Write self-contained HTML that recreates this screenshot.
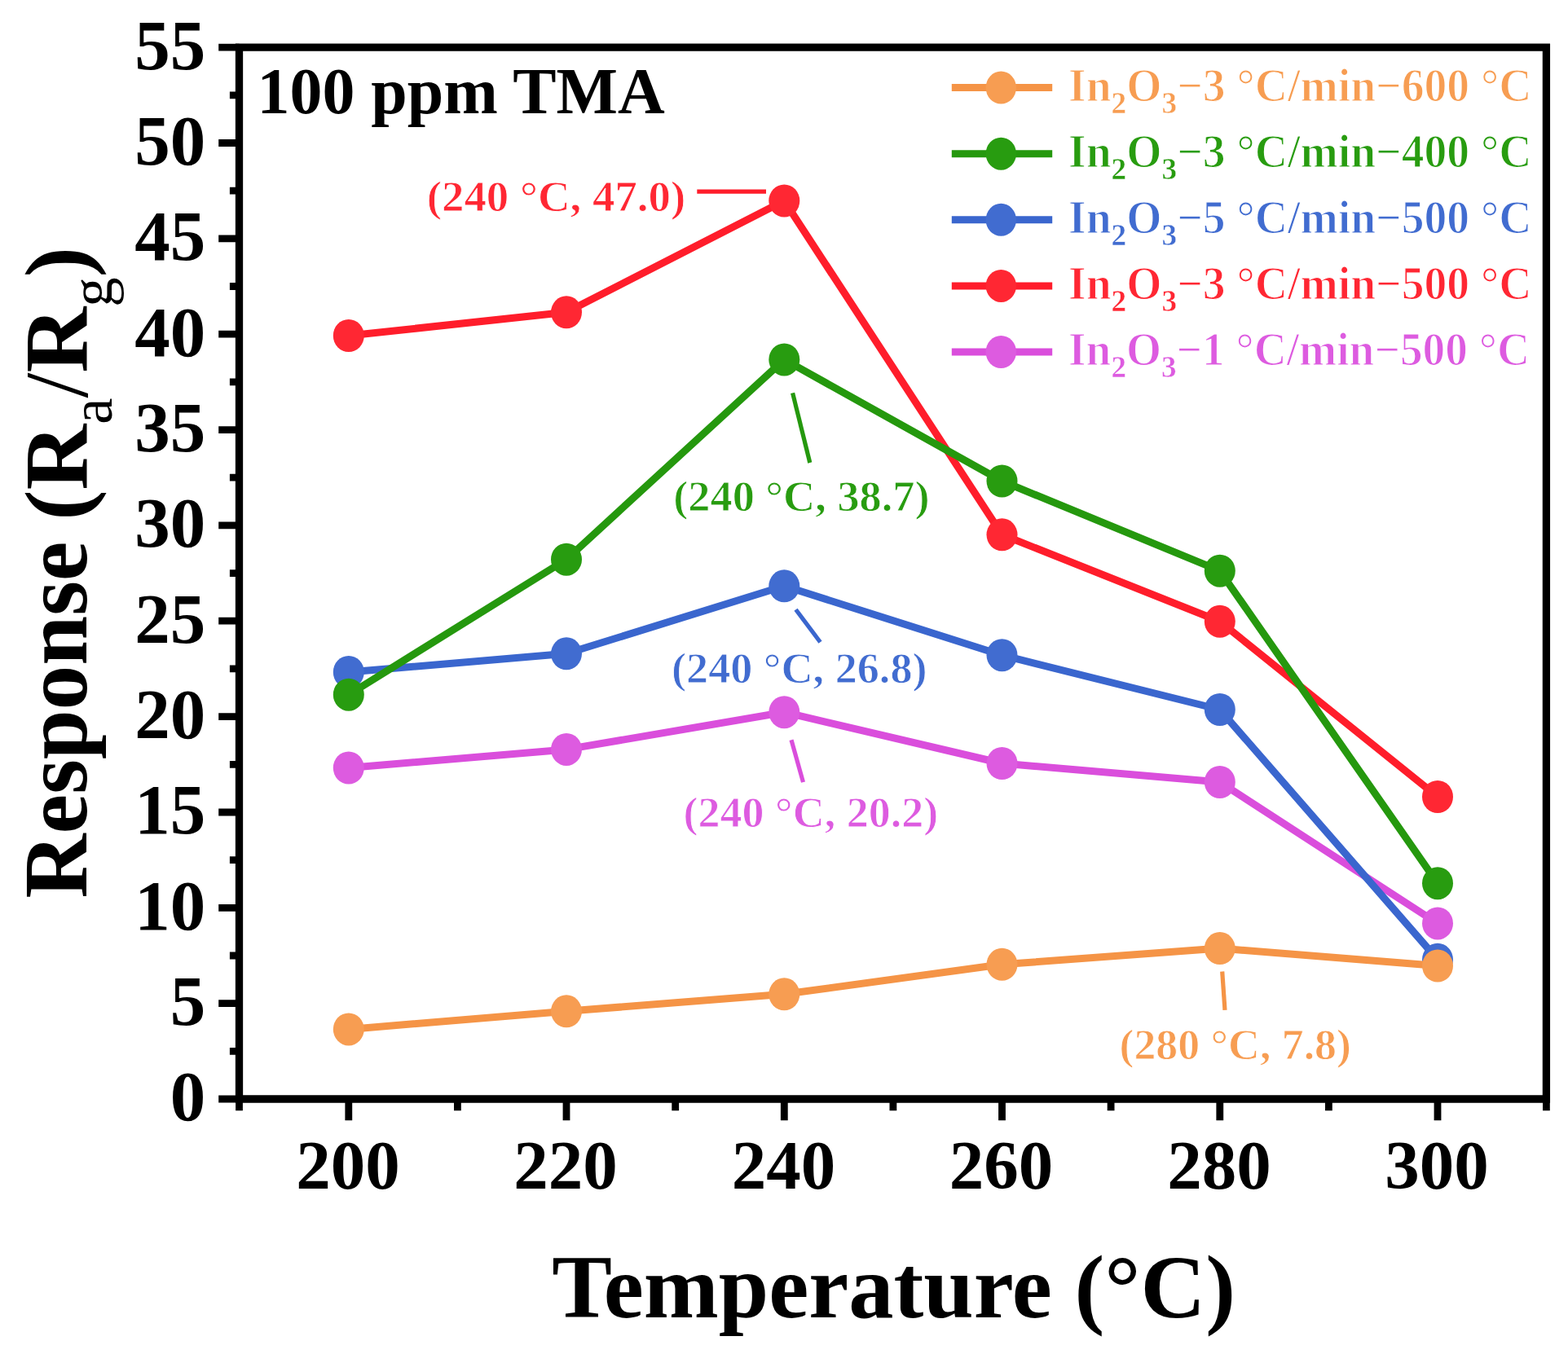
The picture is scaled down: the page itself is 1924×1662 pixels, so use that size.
<!DOCTYPE html><html><head><meta charset="utf-8"><title>Response vs Temperature</title><style>
html,body{margin:0;padding:0;background:#fff;}body{width:1924px;height:1662px;overflow:hidden;}
svg{display:block;}text{font-family:"Liberation Serif", "Times New Roman", serif;font-weight:bold;}
</style></head><body>
<svg width="1924" height="1662" viewBox="0 0 1924 1662">
<rect width="1924" height="1662" fill="#fff"/>
<path d="M293.5 58.1 H1897.4 V1349.0 H293.5 Z" stroke="#000" stroke-width="9.3" fill="none"/>
<path d="M268.2 1349.0 H293.5 M268.2 1231.7 H293.5 M268.2 1114.3 H293.5 M268.2 997.0 H293.5 M268.2 879.6 H293.5 M268.2 762.2 H293.5 M268.2 644.9 H293.5 M268.2 527.6 H293.5 M268.2 410.2 H293.5 M268.2 292.9 H293.5 M268.2 175.5 H293.5 M268.2 58.2 H293.5 M281.9 1290.3 H293.5 M281.9 1173.0 H293.5 M281.9 1055.6 H293.5 M281.9 938.3 H293.5 M281.9 820.9 H293.5 M281.9 703.6 H293.5 M281.9 586.2 H293.5 M281.9 468.9 H293.5 M281.9 351.5 H293.5 M281.9 234.2 H293.5 M281.9 116.8 H293.5 M427.8 1349.0 V1375.3 M695.0 1349.0 V1375.3 M962.3 1349.0 V1375.3 M1229.5 1349.0 V1375.3 M1496.8 1349.0 V1375.3 M1764.0 1349.0 V1375.3 M561.4 1349.0 V1363.2 M828.7 1349.0 V1363.2 M1095.9 1349.0 V1363.2 M1363.1 1349.0 V1363.2 M1630.4 1349.0 V1363.2 M293.5 1349.0 V1363.2 M1897.4 1349.0 V1363.2" stroke="#000" stroke-width="8.8" fill="none"/>
<g font-size="87" text-anchor="end" fill="#000">
<text x="252.3" y="1375.3">0</text>
<text x="252.3" y="1258.0">5</text>
<text x="252.3" y="1140.6">10</text>
<text x="252.3" y="1023.3">15</text>
<text x="252.3" y="905.9">20</text>
<text x="252.3" y="788.6">25</text>
<text x="252.3" y="671.2">30</text>
<text x="252.3" y="553.9">35</text>
<text x="252.3" y="436.5">40</text>
<text x="252.3" y="319.2">45</text>
<text x="252.3" y="201.8">50</text>
<text x="252.3" y="84.5">55</text>
</g>
<g font-size="85" text-anchor="middle" fill="#000">
<text x="426.9" y="1459.0">200</text>
<text x="694.1" y="1459.0">220</text>
<text x="961.4" y="1459.0">240</text>
<text x="1228.6" y="1459.0">260</text>
<text x="1495.9" y="1459.0">280</text>
<text x="1763.1" y="1459.0">300</text>
</g>
<text transform="matrix(1.10478 0 0 1.09846 677.19 1616.50)" font-size="100" fill="#000">Temperature (°C)</text>
<text transform="matrix(0 -1.09470 1.11395 0 105.71 1102.49)" font-size="100" fill="#000">Response</text>
<text transform="matrix(0 -1.11849 1.10727 0 106.70 638.77)" font-size="100" fill="#000">(R<tspan font-size="65" dy="27" font-weight="normal">a</tspan><tspan dy="-27" font-weight="normal">/</tspan><tspan>R</tspan><tspan font-size="65" dy="27" font-weight="normal">g</tspan><tspan dy="-27">)</tspan></text>
<text transform="matrix(0.79887 0 0 0.80115 315.51 138.98)" font-size="100" fill="#000">100 ppm TMA</text>
<polyline points="427.8,942.5 695.0,919.9 962.3,874.2 1229.5,937.0 1496.8,960.0 1764.0,1133.4" fill="none" stroke="#DA4EDC" stroke-width="9.0" stroke-linejoin="round"/>
<ellipse cx="427.8" cy="942.5" rx="19" ry="20" fill="#DD5BE0"/>
<ellipse cx="695.0" cy="919.9" rx="19" ry="20" fill="#DD5BE0"/>
<ellipse cx="962.3" cy="874.2" rx="19" ry="20" fill="#DD5BE0"/>
<ellipse cx="1229.5" cy="937.0" rx="19" ry="20" fill="#DD5BE0"/>
<ellipse cx="1496.8" cy="960.0" rx="19" ry="20" fill="#DD5BE0"/>
<ellipse cx="1764.0" cy="1133.4" rx="19" ry="20" fill="#DD5BE0"/>
<polyline points="427.8,412.0 695.0,383.3 962.3,246.5 1229.5,656.3 1496.8,762.8 1764.0,978.0" fill="none" stroke="#FF1D2B" stroke-width="9.0" stroke-linejoin="round"/>
<ellipse cx="427.8" cy="412.0" rx="19" ry="20" fill="#FF2733"/>
<ellipse cx="695.0" cy="383.3" rx="19" ry="20" fill="#FF2733"/>
<ellipse cx="962.3" cy="246.5" rx="19" ry="20" fill="#FF2733"/>
<ellipse cx="1229.5" cy="656.3" rx="19" ry="20" fill="#FF2733"/>
<ellipse cx="1496.8" cy="762.8" rx="19" ry="20" fill="#FF2733"/>
<ellipse cx="1764.0" cy="978.0" rx="19" ry="20" fill="#FF2733"/>
<polyline points="427.8,825.0 695.0,802.3 962.3,719.3 1229.5,804.2 1496.8,871.0 1764.0,1177.8" fill="none" stroke="#3A66CE" stroke-width="9.0" stroke-linejoin="round"/>
<ellipse cx="427.8" cy="825.0" rx="19" ry="20" fill="#416CD0"/>
<ellipse cx="695.0" cy="802.3" rx="19" ry="20" fill="#416CD0"/>
<ellipse cx="962.3" cy="719.3" rx="19" ry="20" fill="#416CD0"/>
<ellipse cx="1229.5" cy="804.2" rx="19" ry="20" fill="#416CD0"/>
<ellipse cx="1496.8" cy="871.0" rx="19" ry="20" fill="#416CD0"/>
<ellipse cx="1764.0" cy="1177.8" rx="19" ry="20" fill="#416CD0"/>
<polyline points="427.8,852.7 695.0,686.7 962.3,441.4 1229.5,590.5 1496.8,700.7 1764.0,1084.2" fill="none" stroke="#25980E" stroke-width="9.0" stroke-linejoin="round"/>
<ellipse cx="427.8" cy="852.7" rx="19" ry="20" fill="#289C10"/>
<ellipse cx="695.0" cy="686.7" rx="19" ry="20" fill="#289C10"/>
<ellipse cx="962.3" cy="441.4" rx="19" ry="20" fill="#289C10"/>
<ellipse cx="1229.5" cy="590.5" rx="19" ry="20" fill="#289C10"/>
<ellipse cx="1496.8" cy="700.7" rx="19" ry="20" fill="#289C10"/>
<ellipse cx="1764.0" cy="1084.2" rx="19" ry="20" fill="#289C10"/>
<polyline points="427.8,1263.4 695.0,1241.3 962.3,1220.3 1229.5,1183.8 1496.8,1164.1 1764.0,1185.5" fill="none" stroke="#F59446" stroke-width="9.0" stroke-linejoin="round"/>
<ellipse cx="427.8" cy="1263.4" rx="19" ry="20" fill="#F79D52"/>
<ellipse cx="695.0" cy="1241.3" rx="19" ry="20" fill="#F79D52"/>
<ellipse cx="962.3" cy="1220.3" rx="19" ry="20" fill="#F79D52"/>
<ellipse cx="1229.5" cy="1183.8" rx="19" ry="20" fill="#F79D52"/>
<ellipse cx="1496.8" cy="1164.1" rx="19" ry="20" fill="#F79D52"/>
<ellipse cx="1764.0" cy="1185.5" rx="19" ry="20" fill="#F79D52"/>
<line x1="855.3" y1="235.2" x2="940" y2="235.2" stroke="#FF1D2B" stroke-width="5.2"/>
<line x1="972.6" y1="482.4" x2="993.8" y2="568" stroke="#25980E" stroke-width="5.2"/>
<line x1="976.5" y1="748.2" x2="1006.5" y2="788.2" stroke="#3A66CE" stroke-width="5.2"/>
<line x1="971" y1="908.3" x2="985.5" y2="960.1" stroke="#DA4EDC" stroke-width="5.2"/>
<line x1="1499.7" y1="1192.5" x2="1503" y2="1239.9" stroke="#F59446" stroke-width="5.2"/>
<text transform="matrix(0.54860 0 0 0.53231 523.71 259.30)" font-size="100" fill="#FF2733" stroke="#fff" stroke-width="1.6">(240 °C, 47.0)</text>
<text transform="matrix(0.54316 0 0 0.53692 826.23 627.10)" font-size="100" fill="#289C10" stroke="#fff" stroke-width="1.6">(240 °C, 38.7)</text>
<text transform="matrix(0.54158 0 0 0.53846 824.03 838.00)" font-size="100" fill="#416CD0" stroke="#fff" stroke-width="1.6">(240 °C, 26.8)</text>
<text transform="matrix(0.54018 0 0 0.52615 838.54 1014.50)" font-size="100" fill="#DD5BE0" stroke="#fff" stroke-width="1.6">(240 °C, 20.2)</text>
<text transform="matrix(0.53769 0 0 0.53231 1373.55 1299.60)" font-size="100" fill="#F79D52" stroke="#fff" stroke-width="1.6">(280 °C, 7.8)</text>
<line x1="1167.8" y1="107.6" x2="1291.2" y2="107.6" stroke="#F59446" stroke-width="9"/>
<ellipse cx="1228.3" cy="107.6" rx="18.7" ry="20" fill="#F79D52"/>
<text transform="matrix(0.55613 0 0 0.56211 1311.03 124.39)" font-size="100" fill="#F79D52" stroke="#fff" stroke-width="2.2">In<tspan font-size="67" dy="26" stroke-width="0.8">2</tspan><tspan dy="-26">O</tspan><tspan font-size="67" dy="26" stroke-width="0.8">3</tspan><tspan dy="-26">−3 °C/min−600 °C</tspan></text>
<line x1="1167.8" y1="188.7" x2="1291.2" y2="188.7" stroke="#25980E" stroke-width="9"/>
<ellipse cx="1228.3" cy="188.7" rx="18.7" ry="20" fill="#289C10"/>
<text transform="matrix(0.55613 0 0 0.56211 1311.03 205.39)" font-size="100" fill="#289C10" stroke="#fff" stroke-width="2.2">In<tspan font-size="67" dy="26" stroke-width="0.8">2</tspan><tspan dy="-26">O</tspan><tspan font-size="67" dy="26" stroke-width="0.8">3</tspan><tspan dy="-26">−3 °C/min−400 °C</tspan></text>
<line x1="1167.8" y1="269.8" x2="1291.2" y2="269.8" stroke="#3A66CE" stroke-width="9"/>
<ellipse cx="1228.3" cy="269.8" rx="18.7" ry="20" fill="#416CD0"/>
<text transform="matrix(0.55613 0 0 0.56211 1311.03 286.39)" font-size="100" fill="#416CD0" stroke="#fff" stroke-width="2.2">In<tspan font-size="67" dy="26" stroke-width="0.8">2</tspan><tspan dy="-26">O</tspan><tspan font-size="67" dy="26" stroke-width="0.8">3</tspan><tspan dy="-26">−5 °C/min−500 °C</tspan></text>
<line x1="1167.8" y1="350.9" x2="1291.2" y2="350.9" stroke="#FF1D2B" stroke-width="9"/>
<ellipse cx="1228.3" cy="350.9" rx="18.7" ry="20" fill="#FF2733"/>
<text transform="matrix(0.55613 0 0 0.56211 1311.03 367.39)" font-size="100" fill="#FF2733" stroke="#fff" stroke-width="2.2">In<tspan font-size="67" dy="26" stroke-width="0.8">2</tspan><tspan dy="-26">O</tspan><tspan font-size="67" dy="26" stroke-width="0.8">3</tspan><tspan dy="-26">−3 °C/min−500 °C</tspan></text>
<line x1="1167.8" y1="432.0" x2="1291.2" y2="432.0" stroke="#DA4EDC" stroke-width="9"/>
<ellipse cx="1228.3" cy="432.0" rx="18.7" ry="20" fill="#DD5BE0"/>
<text transform="matrix(0.55375 0 0 0.56211 1311.04 448.39)" font-size="100" fill="#DD5BE0" stroke="#fff" stroke-width="2.2">In<tspan font-size="67" dy="26" stroke-width="0.8">2</tspan><tspan dy="-26">O</tspan><tspan font-size="67" dy="26" stroke-width="0.8">3</tspan><tspan dy="-26">−1 °C/min−500 °C</tspan></text>
</svg></body></html>
